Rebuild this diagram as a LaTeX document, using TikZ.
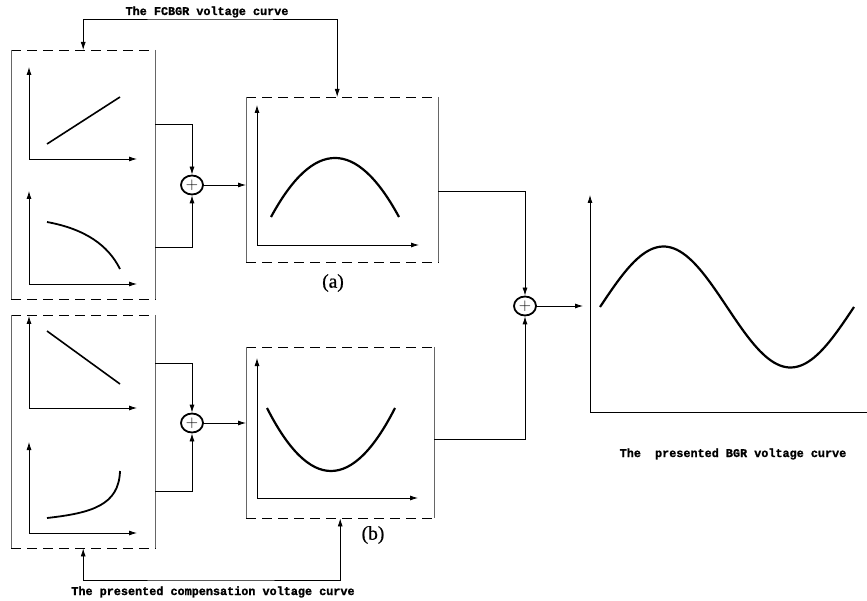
\documentclass[tikz,border=0pt]{standalone}
\usepackage{fontspec}
\newfontfamily\lblfont{Liberation Mono}[BoldFeatures={FakeBold=1.2}]
\newfontfamily\subfont{Liberation Serif}[FakeBold=0.7]
\usetikzlibrary{arrows.meta,shapes.geometric,calc}
\begin{document}
\begin{tikzpicture}[x=1pt,y=-1pt,
  tip/.style={-{Latex[length=8pt,width=5pt]}},
  btip/.style={{Latex[length=8pt,width=5pt]}-{Latex[length=8pt,width=5pt]}},
  thin line/.style={line width=0.8pt},
  axisline/.style={thin line,btip},
  conn/.style={thin line,tip},
  curve/.style={line width=2.2pt},
  panel/.style={rectangle,draw=none,inner sep=0pt,anchor=north west},
  sumnode/.style={ellipse,draw,line width=1.8pt,minimum width=22pt,minimum height=19pt,inner sep=0pt,font=\fontsize{17}{17}\selectfont},
  lbl/.style={font=\lblfont\bfseries\fontsize{11.8}{14}\selectfont,anchor=base,inner sep=0pt},
  sublbl/.style={font=\subfont\fontsize{19.5}{20}\selectfont,inner sep=0pt}
]
\useasboundingbox (0,0) rectangle (867,601);

% panels
\node[panel,minimum width=144pt,minimum height=249pt] (L1) at (11,50) {};
\node[panel,minimum width=144pt,minimum height=233pt] (L2) at (11,315) {};
\node[panel,minimum width=192pt,minimum height=165pt] (A) at (246,97) {};
\node[panel,minimum width=188pt,minimum height=171pt] (B) at (246,347) {};
\foreach \p in {L1,L2,A,B}{
  \draw[thin line,dash pattern=on 10pt off 6pt] (\p.north west) -- (\p.north east);
  \draw[thin line,dash pattern=on 10pt off 6pt] (\p.south west) -- (\p.south east);
  \draw[thin line,black!60] (\p.north west) -- (\p.south west);
  \draw[thin line,black!60] (\p.north east) -- (\p.south east);
}

% small plots in L1
\draw[axisline] (29,67) |- (137,159);
\draw[curve,line width=1.6pt] (47,144) -- (120,97);
\draw[axisline] (29,191) |- (137,284);
\draw[curve,line width=1.8pt] (47,222) .. controls (85,229) and (108,245) .. (120,269);

% small plots in L2
\draw[axisline] (29,316) |- (137,408);
\draw[curve,line width=1.6pt] (47,331) -- (120,384);
\draw[axisline] (29,442) |- (137,533);
\draw[curve,line width=1.8pt] (47,518) .. controls (92,513) and (119,505) .. (120,471);

% plot in A
\draw[axisline] (257,105) |- (419,245);
\draw[curve] (271,217) .. controls (313.7,138.3) and (356.3,138.3) .. (399,217);
% plot in B
\draw[axisline] (257,358) |- (418,498);
\draw[curve] (267,408) .. controls (309.7,492) and (352.3,492) .. (395,408);

% summation nodes
\node[sumnode] (s1) at (192,185) {+};
\node[sumnode] (s2) at (192,423) {+};
\node[sumnode] (s3) at (525,306) {+};

% connectors
\draw[conn] ([yshift=50.5pt]L1.east) -| (s1.north);
\draw[conn] ([yshift=-72.5pt]L1.east) -| (s1.south);
\draw[conn] (s1.east) -- (s1.east -| A.west);
\draw[conn] ([yshift=68.5pt]L2.east) -| (s2.north);
\draw[conn] ([yshift=-59.5pt]L2.east) -| (s2.south);
\draw[conn] (s2.east) -- (s2.east -| B.west);
\draw[conn] ([yshift=-11.5pt]A.east) -| (s3.north);
\draw[conn] ([yshift=-6.5pt]B.east) -| (s3.south);
\coordinate (Cin) at (583,306);
\draw[conn] (s3.east) -- (Cin);

% big plot
\draw[thin line,{Latex[length=8pt,width=5pt]}-] (590,195) |- (867,412);
\draw[curve] plot[domain=0:360,samples=90,smooth] ({600+\x/360*254},{307-60.5*sin(\x)});

% feedback lines
\coordinate (fbTop) at (210,19);
\coordinate (fbBot) at (210,580);
\draw[thin line,btip] (L1.north) |- (fbTop) -| ([xshift=-5pt]A.north);
\draw[thin line,btip] (L2.south) |- (fbBot) -| (B.south);

% labels
\node[lbl] (t1) at (207,15) {The FCBGR voltage curve};
\node[lbl] (t2) at (213,595) {The presented compensation voltage curve};
\node[lbl] (t3) at (733,457) {The\ \ presented BGR voltage curve};
\node[sublbl] (la) at (333,283) {(a)};
\node[sublbl] (lb) at (373,535) {(b)};
\end{tikzpicture}
\end{document}
